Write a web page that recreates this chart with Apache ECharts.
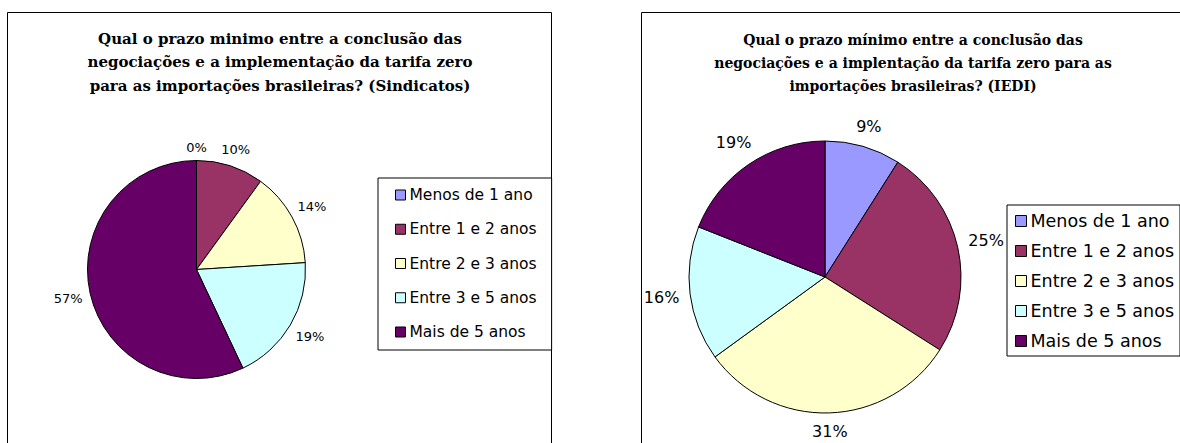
<!DOCTYPE html>
<html>
<head>
<meta charset="utf-8">
<title>Prazo mínimo para tarifa zero</title>
<script src="https://cdn.jsdelivr.net/npm/echarts@6.0.0/dist/echarts.min.js"></script>
<style>
  html, body { margin: 0; padding: 0; background: #fff; }
  #chart { width: 1180px; height: 443px; }
</style>
</head>
<body>
<div id="chart"></div>
<script>
// categorias e valores (%)
const categories = ['Menos de 1 ano', 'Entre 1 e 2 anos', 'Entre 2 e 3 anos', 'Entre 3 e 5 anos', 'Mais de 5 anos']
const sindicatosPct = [0, 10, 14, 19, 57]
const iediPct = [9, 25, 31, 16, 19]
const titleSindicatos = [
  'Qual o prazo minimo entre a conclusão das',
  'negociações e a implementação da tarifa zero',
  'para as importações brasileiras? (Sindicatos)'
]
const titleIedi = [
  'Qual o prazo mínimo entre a conclusão das',
  'negociações e a implentação da tarifa zero para as',
  'importações brasileiras? (IEDI)'
]
const palette = ['#9999FF', '#993366', '#FFFFCC', '#CCFFFF', '#660066']

// ângulo médio de cada fatia, a partir do topo, sentido horário
function midAngles (values) {
  const total = values.reduce((s, v) => s + v, 0)
  let acc = 0
  return values.map(v => {
    const m = (acc + v / 2) / total * 360
    acc += v
    return m
  })
}

// rótulos fora da pizza, como no Excel: centrados, a uma folga da borda
function outsideLabels (values, cx, cy, r, gap) {
  const mids = midAngles(values)
  return function (params) {
    const a = mids[params.dataIndex] * Math.PI / 180
    const sx = Math.sin(a)
    const sy = -Math.cos(a)
    const w = params.labelRect.width
    const h = params.labelRect.height
    const d = r + gap + Math.abs(sx) * w / 2 + Math.abs(sy) * h / 2
    return { x: cx + sx * d, y: cy + sy * d, align: 'center', verticalAlign: 'middle' }
  }
}

function pieData (values) {
  return categories.map((name, i) => ({ name: name, value: values[i] }))
}

const chart = echarts.init(document.getElementById('chart'), null, { renderer: 'svg' })

const left = { cx: 196.5, cy: 269.5, r: 109 }
const right = { cx: 825, cy: 277, r: 136 }

chart.setOption({
  animation: false,
  color: palette,
  title: [
    {
      text: titleSindicatos.join('\n'),
      left: 280,
      top: 27,
      textAlign: 'center',
      padding: 0,
      textStyle: { fontFamily: 'DejaVu Serif', fontWeight: 'bold', fontSize: 15, lineHeight: 23.5, color: '#000' }
    },
    {
      text: titleIedi.join('\n'),
      left: 913,
      top: 28,
      textAlign: 'center',
      padding: 0,
      textStyle: { fontFamily: 'DejaVu Serif', fontWeight: 'bold', fontSize: 14, lineHeight: 23, color: '#000' }
    }
  ],
  graphic: [
    // molduras dos dois gráficos
    { type: 'rect', shape: { x: 7.5, y: 12.5, width: 544, height: 460 }, style: { fill: 'none', stroke: '#000', lineWidth: 1 }, silent: true },
    { type: 'rect', shape: { x: 641.5, y: 12.5, width: 560, height: 460 }, style: { fill: 'none', stroke: '#000', lineWidth: 1 }, silent: true }
  ],
  legend: [
    {
      data: categories,
      orient: 'vertical',
      left: 378,
      top: 178,
      padding: [9, 15, 10, 17],
      itemGap: 18.25,
      itemWidth: 10,
      itemHeight: 10,
      icon: 'rect',
      selectedMode: false,
      backgroundColor: '#fff',
      borderColor: '#000',
      borderWidth: 1,
      itemStyle: { borderColor: '#000', borderWidth: 1 },
      textStyle: { fontFamily: 'DejaVu Sans', fontSize: 15.5, lineHeight: 16, color: '#000', padding: [0, 0, 0, -1] }
    },
    {
      data: categories,
      orient: 'vertical',
      left: 1007,
      top: 205,
      padding: [7, 6, 6, 8],
      itemGap: 12,
      itemWidth: 11,
      itemHeight: 11,
      icon: 'rect',
      selectedMode: false,
      backgroundColor: '#fff',
      borderColor: '#000',
      borderWidth: 1,
      itemStyle: { borderColor: '#000', borderWidth: 1 },
      textStyle: { fontFamily: 'DejaVu Sans', fontSize: 17.5, lineHeight: 18, color: '#000', padding: [0, 0, 0, -1] }
    }
  ],
  series: [
    {
      name: 'Sindicatos',
      type: 'pie',
      center: [left.cx, left.cy],
      radius: left.r,
      startAngle: 90,
      clockwise: true,
      avoidLabelOverlap: false,
      emphasis: { disabled: true },
      itemStyle: { borderColor: '#000', borderWidth: 1 },
      label: {
        show: true,
        position: 'outside',
        formatter: p => p.value + '%',
        fontFamily: 'DejaVu Sans',
        fontSize: 13,
        color: '#000'
      },
      labelLine: { show: false },
      labelLayout: outsideLabels(sindicatosPct, left.cx, left.cy, left.r, 7),
      data: pieData(sindicatosPct)
    },
    {
      name: 'IEDI',
      type: 'pie',
      center: [right.cx, right.cy],
      radius: right.r,
      startAngle: 90,
      clockwise: true,
      avoidLabelOverlap: false,
      emphasis: { disabled: true },
      itemStyle: { borderColor: '#000', borderWidth: 1 },
      label: {
        show: true,
        position: 'outside',
        formatter: p => p.value + '%',
        fontFamily: 'DejaVu Sans',
        fontSize: 16,
        color: '#000'
      },
      labelLine: { show: false },
      labelLayout: outsideLabels(iediPct, right.cx, right.cy, right.r, 10),
      data: pieData(iediPct)
    }
  ]
})
</script>
</body>
</html>
